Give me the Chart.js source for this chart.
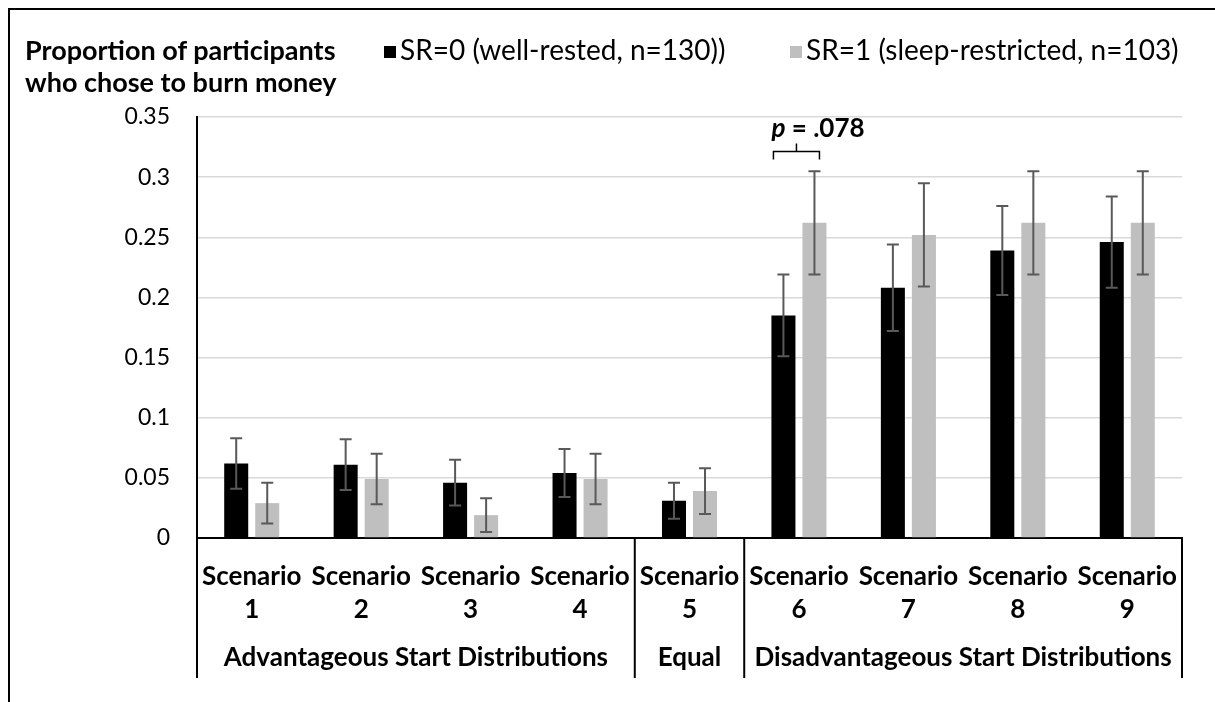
<!DOCTYPE html>
<html>
<head>
<meta charset="utf-8">
<script src="https://cdn.jsdelivr.net/npm/chart.js@4/dist/chart.umd.min.js"></script>
<style>
  html, body { margin: 0; padding: 0; background: #fff; }
  #page { position: relative; width: 1215px; height: 702px; overflow: hidden; font-family: Lato, sans-serif; color: #000; }
  #frame { position: absolute; left: 8px; top: 8px; right: -10px; bottom: -10px; border-left: 2px solid #000; border-top: 2px solid #000; }
  #chart { position: absolute; left: 0; top: 0; }
  .title { position: absolute; left: 25px; top: 34px; font-weight: bold; font-size: 27px; line-height: 31.5px; white-space: nowrap; }
  .legend-item { position: absolute; top: 33px; font-size: 28px; line-height: 32px; white-space: nowrap; }
  .legend-item .sw { position: absolute; left: -16px; top: 13px; width: 12px; height: 12px; }
</style>
</head>
<body>
<div id="page">
  <div id="frame"></div>
  <canvas id="chart" width="1215" height="702"></canvas>
  <div class="title">Proportion of participants<br>who chose to burn money</div>
  <div class="legend-item" style="left:400px"><span class="sw" style="background:#000"></span>SR=0 (well-rested, n=130))</div>
  <div class="legend-item" style="left:806px"><span class="sw" style="background:#bfbfbf"></span>SR=1 (sleep-restricted, n=103)</div>
</div>
<script>
// data
const scenarios = ['1', '2', '3', '4', '5', '6', '7', '8', '9'];
const wellRested = [0.062, 0.061, 0.046, 0.054, 0.031, 0.185, 0.208, 0.239, 0.246];
const wellRestedErr = [0.021, 0.021, 0.019, 0.020, 0.015, 0.034, 0.036, 0.037, 0.038];
const sleepRestricted = [0.029, 0.049, 0.019, 0.049, 0.039, 0.262, 0.252, 0.262, 0.262];
const sleepRestrictedErr = [0.017, 0.021, 0.014, 0.021, 0.019, 0.043, 0.043, 0.043, 0.043];
const groupNames = ['Advantageous Start Distributions', 'Equal', 'Disadvantageous Start Distributions'];
const groupFirst = [0, 4, 5];
const groupLast = [3, 4, 8];
const yTicks = [0, 0.05, 0.1, 0.15, 0.2, 0.25, 0.3, 0.35];
const pLabel = '.078';
const pCategory = 5;

const errors = [wellRestedErr, sleepRestrictedErr];

// error bars on top of each bar
const errorBars = {
    id: 'errorBars',
    afterDatasetsDraw(chart) {
        const ctx = chart.ctx;
        const y = chart.scales.y;
        ctx.save();
        ctx.strokeStyle = '#595959';
        ctx.lineWidth = 2;
        chart.data.datasets.forEach((ds, i) => {
            const meta = chart.getDatasetMeta(i);
            meta.data.forEach((bar, j) => {
                const v = ds.data[j], e = errors[i][j];
                const top = y.getPixelForValue(v + e);
                const bot = y.getPixelForValue(Math.max(0, v - e));
                ctx.beginPath();
                ctx.moveTo(bar.x, top); ctx.lineTo(bar.x, bot);
                ctx.moveTo(bar.x - 6, top); ctx.lineTo(bar.x + 6, top);
                ctx.moveTo(bar.x - 6, bot); ctx.lineTo(bar.x + 6, bot);
                ctx.stroke();
            });
        });
        ctx.restore();
    }
};

// category table under the axis + group names + p-value bracket
const categoryTable = {
    id: 'categoryTable',
    afterDraw(chart) {
        const ctx = chart.ctx;
        const x = chart.scales.x, y = chart.scales.y;
        const area = chart.chartArea;
        const half = (x.getPixelForValue(1) - x.getPixelForValue(0)) / 2;
        const bottom = 678;
        ctx.save();
        ctx.strokeStyle = '#000';
        ctx.lineWidth = 2;
        const edges = [area.left, area.right];
        groupLast.slice(0, -1).forEach(k => edges.push(x.getPixelForValue(k) + half));
        edges.forEach(px => {
            ctx.beginPath();
            ctx.moveTo(px, area.bottom); ctx.lineTo(px, bottom);
            ctx.stroke();
        });
        ctx.fillStyle = '#000';
        ctx.font = 'bold 26px Lato';
        ctx.textAlign = 'center';
        ctx.textBaseline = 'middle';
        groupNames.forEach((name, g) => {
            const cx = (x.getPixelForValue(groupFirst[g]) + x.getPixelForValue(groupLast[g])) / 2;
            ctx.fillText(name, cx, 658);
        });

        // p = .078 bracket over scenario 6
        const b0 = chart.getDatasetMeta(0).data[pCategory];
        const b1 = chart.getDatasetMeta(1).data[pCategory];
        const l = b0.x - 10, r = b1.x + 5, m = (l + r) / 2;
        const yb = y.getPixelForValue(0.3214), ye = y.getPixelForValue(0.3146), yt = y.getPixelForValue(0.328);
        ctx.lineWidth = 1.5;
        ctx.beginPath();
        ctx.moveTo(l, ye); ctx.lineTo(l, yb); ctx.lineTo(r, yb); ctx.lineTo(r, ye);
        ctx.moveTo(m, yb); ctx.lineTo(m, yt);
        ctx.stroke();
        ctx.textAlign = 'left';
        ctx.textBaseline = 'alphabetic';
        const ty = y.getPixelForValue(0.3337);
        ctx.font = 'italic bold 26px Lato';
        ctx.fillText('p', l - 2, ty);
        const pw = ctx.measureText('p').width;
        ctx.font = 'bold 26px Lato';
        ctx.fillText(' = ' + pLabel, l - 2 + pw, ty);
        ctx.restore();
    }
};

new Chart(document.getElementById('chart'), {
    type: 'bar',
    data: {
        labels: scenarios.map(n => ['Scenario', n]),
        datasets: [
            { label: 'SR=0 (well-rested, n=130))', data: wellRested, backgroundColor: '#000000' },
            { label: 'SR=1 (sleep-restricted, n=103)', data: sleepRestricted, backgroundColor: '#bfbfbf' }
        ]
    },
    options: {
        responsive: false,
        animation: false,
        devicePixelRatio: 1,
        layout: { padding: { left: 0, right: 33, top: 117, bottom: 0 } },
        datasets: { bar: { categoryPercentage: 0.567, barPercentage: 0.774 } },
        plugins: { legend: { display: false }, tooltip: { enabled: false } },
        scales: {
            x: {
                grid: { display: false, drawTicks: false },
                border: { color: '#000', width: 2 },
                ticks: {
                    color: '#000', padding: 22, maxRotation: 0, autoSkip: false,
                    font: { family: 'Lato', size: 26, weight: 'bold', lineHeight: 1.26 }
                },
                afterFit: s => { s.height = 164; }
            },
            y: {
                min: 0, max: 0.35,
                grid: { color: '#d9d9d9', lineWidth: 1.5, drawTicks: false },
                border: { color: '#000', width: 2 },
                afterBuildTicks: s => { s.ticks = yTicks.map(v => ({ value: v })); },
                ticks: {
                    color: '#000', padding: 27,
                    font: { family: 'Lato', size: 23 },
                    callback: v => String(+v.toFixed(2))
                },
                afterFit: s => { s.width = 197; }
            }
        }
    },
    plugins: [errorBars, categoryTable]
});
</script>
</body>
</html>
